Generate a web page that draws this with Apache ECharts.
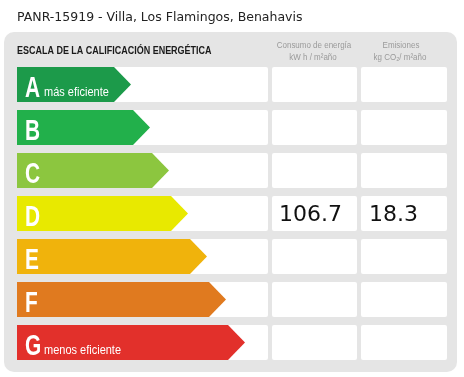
<!DOCTYPE html>
<html>
<head>
<meta charset="utf-8">
<script src="https://cdn.jsdelivr.net/npm/echarts@6/dist/echarts.min.js"></script>
<style>
html,body{margin:0;padding:0;background:#fff;}
#chart{width:464px;height:377px;}
</style>
</head>
<body>
<div id="chart"></div>
<script>
// ---- data ----
const title = 'PANR-15919 - Villa, Los Flamingos, Benahavis';
const scaleTitle = 'ESCALA DE LA CALIFICACIÓN ENERGÉTICA';
const grades = ['A', 'B', 'C', 'D', 'E', 'F', 'G'];
const gradeRank = [1, 2, 3, 4, 5, 6, 7];
const gradeNotes = ['más eficiente', '', '', '', '', '', 'menos eficiente'];
const consumo = [null, null, null, 106.7, null, null, null];
const emisiones = [null, null, null, 18.3, null, null, null];
const colConsumo = ['Consumo de energía', 'kW h / m²año'];
const colEmisiones = ['Emisiones', 'kg CO₂/ m²año'];

// ---- styles ----
const gradeColors = ['#1c9a4a', '#22b04b', '#8cc63f', '#e8e900', '#f0b30c', '#e07a1f', '#e2302b'];
const SANS = "'Liberation Sans', Arial, sans-serif";
const GRID_LEFT = 17, PANEL_END = 268, C2 = [272, 357], C3 = [361, 447];

const chart = echarts.init(document.getElementById('chart'), null, {renderer: 'canvas'});

function hdr(text, x, y) {
  return {type: 'text', x: x, y: y, scaleX: 0.84, style: {text: text, font: "9.5px " + SANS, fill: '#9a9a9a', align: 'center', verticalAlign: 'middle'}};
}

const option = {
  animation: false,
  backgroundColor: '#ffffff',
  grid: {left: GRID_LEFT, top: 63, width: 418, height: 301},
  xAxis: {type: 'value', min: -5, max: 17, show: false},
  yAxis: {type: 'category', data: grades, inverse: true, show: false},
  graphic: [
    {type: 'rect', z: -10, shape: {x: 4, y: 32, width: 453, height: 340, r: 10}, style: {fill: '#e5e5e5'}},
    {type: 'text', x: 17, y: 17.5, style: {text: title, font: "12.5px 'DejaVu Sans'", fill: '#222', verticalAlign: 'middle'}},
    {type: 'text', x: 17, y: 51.5, scaleX: 0.855, style: {text: scaleTitle, font: "bold 10.5px " + SANS, fill: '#1a1a1a', verticalAlign: 'middle'}},
    hdr(colConsumo[0], 314, 45),
    hdr(colConsumo[1], 313, 57),
    hdr(colEmisiones[0], 401, 45),
    hdr(colEmisiones[1], 400, 57)
  ],
  series: [{
    type: 'custom',
    clip: false,
    data: grades.map((g, i) => [gradeRank[i], g]),
    encode: {x: 0, y: 1},
    renderItem: function (params, api) {
      const i = params.dataIndex;
      const rank = api.value(0);
      const p = api.coord([rank, i]);
      const band = api.size([0, 1])[1];
      const h = band * 35 / 43;
      const top = p[1] - h / 2, bot = p[1] + h / 2;
      const tip = p[0];
      const x0 = api.coord([-5, i])[0];
      const shoulder = tip - 17;
      const children = [
        {type: 'rect', shape: {x: x0, y: top, width: PANEL_END - x0, height: h, r: 2}, style: {fill: '#fff'}},
        {type: 'rect', shape: {x: C2[0], y: top, width: C2[1] - C2[0], height: h, r: 2}, style: {fill: '#fff'}},
        {type: 'rect', shape: {x: C3[0], y: top, width: C3[1] - C3[0], height: h, r: 2}, style: {fill: '#fff'}},
        {type: 'polygon', shape: {points: [[x0, top], [shoulder, top], [tip, p[1]], [shoulder, bot], [x0, bot]]}, style: {fill: gradeColors[i]}},
        {type: 'text', x: x0 + 8, y: p[1] + 4, scaleX: 0.72, style: {text: grades[i], font: "bold 29px " + SANS, fill: '#fff', verticalAlign: 'middle'}}
      ];
      if (gradeNotes[i]) {
        children.push({type: 'text', x: x0 + 27, y: p[1] + 8.5, scaleX: 0.88, style: {text: gradeNotes[i], font: "12.5px " + SANS, fill: '#fff', verticalAlign: 'middle'}});
      }
      if (consumo[i] != null) {
        children.push({type: 'text', x: C2[0] + 7, y: p[1] + 2, style: {text: consumo[i].toFixed(1), font: "22px 'DejaVu Sans'", fill: '#111', verticalAlign: 'middle'}});
      }
      if (emisiones[i] != null) {
        children.push({type: 'text', x: C3[0] + 8, y: p[1] + 2, style: {text: emisiones[i].toFixed(1), font: "22px 'DejaVu Sans'", fill: '#111', verticalAlign: 'middle'}});
      }
      return {type: 'group', children: children};
    }
  }]
};
chart.setOption(option);
</script>
</body>
</html>
